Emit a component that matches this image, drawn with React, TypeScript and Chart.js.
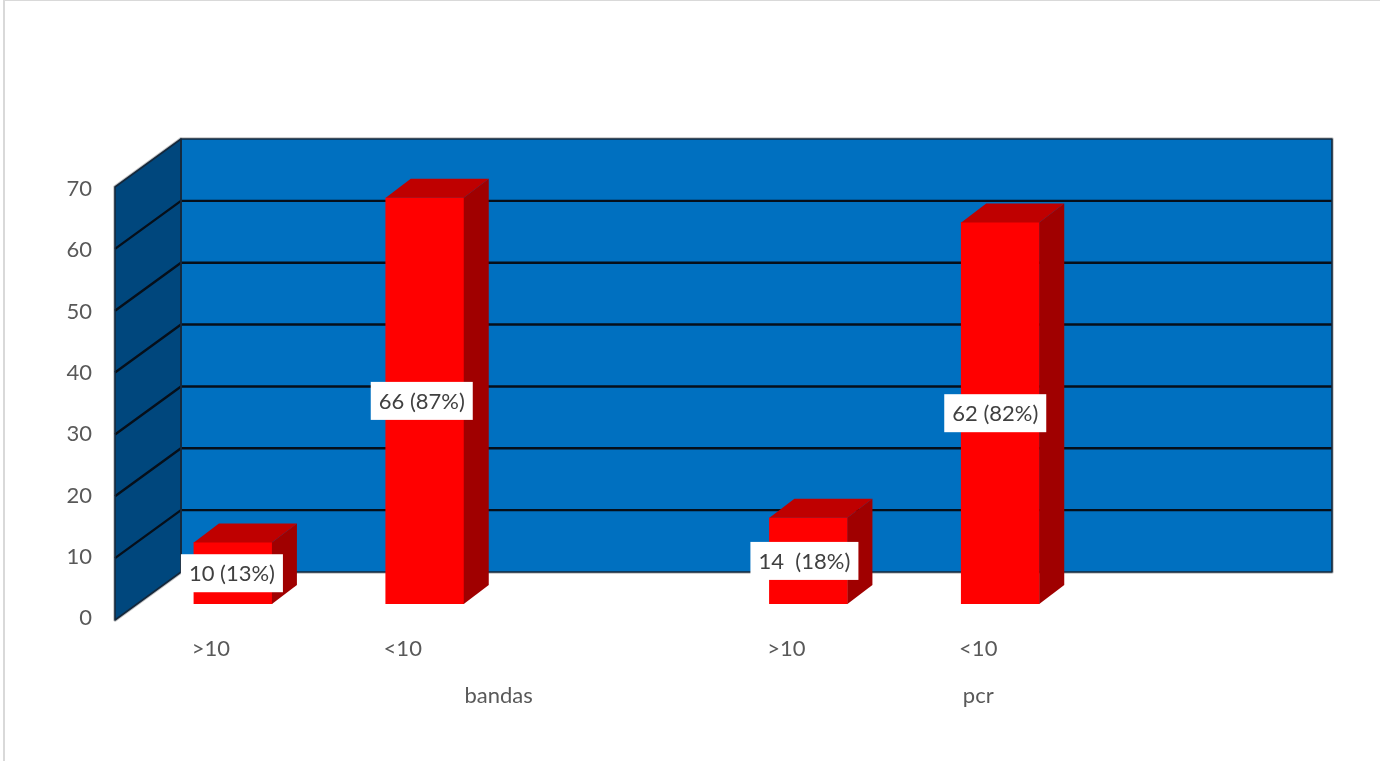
import React, { useEffect, useRef } from "react";
import { Chart, registerables } from "chart.js";

Chart.register(...registerables);

// Chart values
const categories = [">10", "<10", "", ">10", "<10", ""];
const counts = [10, 66, null, 14, 62, null];
const valueLabels = ["10 (13%)", "66 (87%)", "", "14  (18%)", "62 (82%)", ""];
const groupNames = ["bandas", "pcr"];
const groupSpans = [[1, 2], [4, 4]];
const yTicks = [0, 10, 20, 30, 40, 50, 60, 70];

// Oblique projection of the box
const WALL_DX = 66;
const WALL_DY = 48;
const BAR_DX = 22;
const BAR_DY = 16;
const BAR_DEPTH_X = 25;
const BAR_DEPTH_Y = 19;
const BAR_WIDTH = 78;
const BAR_SCALE_MAX = 70.35;
const LABEL_NUDGE = [-1, -3, 0, -4, -5, 0];
const LABEL_WIDTH = [102, 102, 0, 108, 102, 0];
const LABEL_HEIGHT = 38;

const FONT = "Lato, Carlito, sans-serif";
const FONT_SIZE = 22;
const TEXT = "#595959";

function polygon(ctx, pts, fill) {
  ctx.beginPath();
  pts.forEach(([x, y], i) => (i ? ctx.lineTo(x, y) : ctx.moveTo(x, y)));
  ctx.closePath();
  if (fill) {
    ctx.fillStyle = fill;
    ctx.fill();
  }
}

// Page frame, back wall, side wall and gridlines
const wallsPlugin = {
  id: "walls",
  beforeDraw(chart) {
    const { ctx } = chart;
    ctx.save();
    ctx.fillStyle = "#ffffff";
    ctx.fillRect(0, 0, chart.width, chart.height);
    ctx.strokeStyle = "#d9d9d9";
    ctx.lineWidth = 2;
    ctx.strokeRect(4, 0, chart.width + 10, chart.height + 10);
    ctx.restore();
  },
  beforeDatasetsDraw(chart) {
    const { ctx, chartArea: a, scales } = chart;
    const y = scales.yWall;
    const backRight = a.right + WALL_DX;
    ctx.save();

    const top = y.getPixelForValue(70);
    const bottom = y.getPixelForValue(0);
    const back = [
      [a.left + WALL_DX, top - WALL_DY],
      [backRight, top - WALL_DY],
      [backRight, bottom - WALL_DY],
      [a.left + WALL_DX, bottom - WALL_DY],
    ];
    const side = [
      [a.left, top],
      [a.left + WALL_DX, top - WALL_DY],
      [a.left + WALL_DX, bottom - WALL_DY],
      [a.left, bottom],
    ];

    // Soft grey rim under the dark outline
    ctx.lineJoin = "round";
    [back, side].forEach((shape) => {
      polygon(ctx, shape, null);
      ctx.strokeStyle = "#c4c4c4";
      ctx.lineWidth = 3.5;
      ctx.stroke();
    });
    polygon(ctx, back, "#0070c0");
    polygon(ctx, side, "#00477d");

    ctx.strokeStyle = "#060f1a";
    ctx.lineWidth = 2.4;
    yTicks.slice(1, -1).forEach((v) => {
      const py = y.getPixelForValue(v);
      ctx.beginPath();
      ctx.moveTo(a.left, py);
      ctx.lineTo(a.left + WALL_DX, py - WALL_DY);
      ctx.lineTo(backRight, py - WALL_DY);
      ctx.stroke();
    });

    ctx.strokeStyle = "#14283c";
    ctx.lineWidth = 1.6;
    [back, side].forEach((shape) => {
      polygon(ctx, shape, null);
      ctx.stroke();
    });
    ctx.restore();
  },
  // The front faces sit part way into the box
  beforeDatasetDraw(chart) {
    chart.ctx.save();
    chart.ctx.translate(BAR_DX, -BAR_DY);
  },
  afterDatasetDraw(chart, args) {
    const { ctx } = chart;
    args.meta.data.forEach((bar, i) => {
      if (counts[i] == null) return;
      const left = bar.x - BAR_WIDTH / 2;
      const right = bar.x + BAR_WIDTH / 2;
      polygon(ctx, [
        [left, bar.y],
        [left + BAR_DEPTH_X, bar.y - BAR_DEPTH_Y],
        [right + BAR_DEPTH_X, bar.y - BAR_DEPTH_Y],
        [right, bar.y],
      ], "#bf0000");
      polygon(ctx, [
        [right, bar.y],
        [right + BAR_DEPTH_X, bar.y - BAR_DEPTH_Y],
        [right + BAR_DEPTH_X, bar.base - BAR_DEPTH_Y],
        [right, bar.base],
      ], "#a00000");
    });
    ctx.restore();
  },
  afterDatasetsDraw(chart) {
    const { ctx, scales } = chart;
    const meta = chart.getDatasetMeta(0);
    ctx.save();
    ctx.textAlign = "center";
    ctx.textBaseline = "middle";

    // Value labels on white boxes
    ctx.font = `${FONT_SIZE}px ${FONT}`;
    meta.data.forEach((bar, i) => {
      if (counts[i] == null) return;
      const cx = bar.x + BAR_DX + LABEL_NUDGE[i];
      const cy = (bar.y + bar.base) / 2 - BAR_DY;
      ctx.fillStyle = "#ffffff";
      ctx.fillRect(cx - LABEL_WIDTH[i] / 2, cy - LABEL_HEIGHT / 2, LABEL_WIDTH[i], LABEL_HEIGHT);
      ctx.fillStyle = "#404040";
      ctx.fillText(valueLabels[i], cx, cy + 1);
    });

    // Second level of the category axis
    ctx.fillStyle = TEXT;
    groupNames.forEach((name, i) => {
      const [from, to] = groupSpans[i];
      const x = (scales.x.getPixelForValue(from) + scales.x.getPixelForValue(to)) / 2;
      ctx.fillText(name, x, 696);
    });
    ctx.restore();
  },
};

export default function App() {
  const ref = useRef<HTMLCanvasElement>(null);
  useEffect(() => {
    const chart = new Chart(ref.current, {
      type: "bar",
      plugins: [wallsPlugin],
      data: {
        labels: categories,
        datasets: [
          {
            data: counts,
            yAxisID: "yBars",
            backgroundColor: "#ff0000",
            borderWidth: 0,
            barThickness: BAR_WIDTH,
          },
        ],
      },
      options: {
        animation: false,
        responsive: false,
        layout: { padding: { top: 187, right: 114, left: 0, bottom: 0 } },
        plugins: { legend: { display: false }, tooltip: { enabled: false }, title: { display: false } },
        scales: {
          x: {
            grid: { display: false, drawTicks: false },
            border: { display: false },
            ticks: {
              color: TEXT,
              font: { family: FONT, size: FONT_SIZE },
              padding: 16,
              maxRotation: 0,
              autoSkip: false,
            },
            afterFit: (s) => {
              s.height = 141;
            },
          },
          // Labelled axis; its tick labels run slightly tighter than the wall gridlines
          y: {
            min: -0.33,
            max: 70.33,
            afterBuildTicks: (s) => {
              s.ticks = yTicks.map((value) => ({ value }));
            },
            grid: { display: false, drawTicks: false },
            border: { display: false },
            ticks: {
              color: TEXT,
              font: { family: FONT, size: FONT_SIZE },
              padding: 23,
            },
            afterFit: (s) => {
              s.width = 115;
            },
          },
          yWall: {
            display: false,
            min: 0,
            max: 70,
          },
          yBars: {
            display: false,
            min: 0,
            max: BAR_SCALE_MAX,
          },
        },
      },
    });
    return () => chart.destroy();
  }, []);
  return (
    <canvas
      ref={ref}
      width={1380}
      height={761}
      style={{ position: "absolute", left: 0, top: 0, display: "block" }}
    />
  );
}
